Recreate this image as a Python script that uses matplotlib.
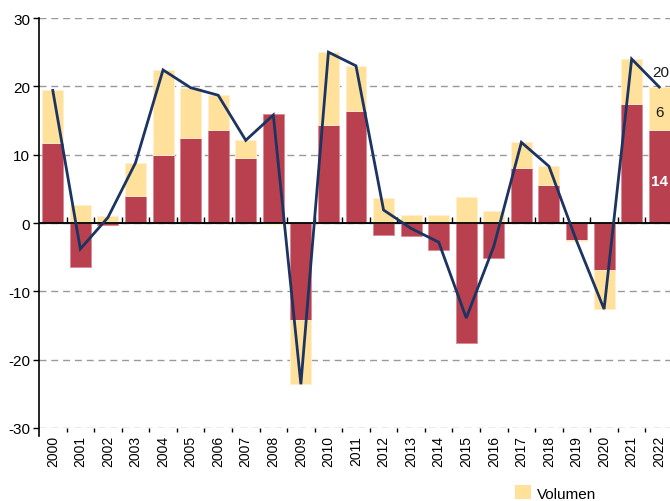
import matplotlib
matplotlib.use("Agg")
import matplotlib.pyplot as plt
import numpy as np
from matplotlib.patches import Patch

years = [str(y) for y in range(2000, 2023)]
preis = [11.7, -6.5, -0.3, 3.9, 9.9, 12.4, 13.6, 9.5, 16.0, -14.2, 14.3, 16.4,
         -1.8, -1.9, -4.0, -17.6, -5.1, 8.1, 5.5, -2.5, -6.9, 17.4, 13.6]
volumen = [7.7, 2.7, 1.0, 4.9, 12.5, 7.4, 5.1, 2.6, -0.2, -9.4, 10.7, 6.6,
           3.6, 1.1, 1.2, 3.8, 1.7, 3.7, 2.8, -0.1, -5.7, 6.6, 6.3]
umsatz = [19.4, -3.8, 0.8, 8.8, 22.4, 19.8, 18.7, 12.1, 15.8, -23.6, 25.0, 23.0,
          1.9, -0.8, -2.8, -13.9, -3.4, 11.8, 8.3, -2.6, -12.6, 24.0, 19.9]
last_labels = ["14", "6", "20"]

RED = "#b8404f"
YEL = "#ffe19c"
NAVY = "#1c3461"

plt.rcParams['font.family'] = ['Liberation Sans', 'DejaVu Sans']
plt.rcParams['axes.unicode_minus'] = False

fig = plt.figure(figsize=(6.7, 5.02), dpi=100)
ax = fig.add_axes([39/670, 1-429/502, (673-39)/670, (429-19)/502])

x = np.arange(len(years))
p = np.array(preis)
v = np.array(volumen)
w = 0.76
ax.bar(x, p, width=w, color=RED, edgecolor="#d98893", linewidth=0.6, zorder=2)
# stack volumen on preis when same sign, else from zero
base = np.where(np.sign(v) == np.sign(p), p, 0.0)
ax.bar(x, v, width=w, bottom=base, color=YEL, edgecolor="#fff0cf", linewidth=0.6, zorder=2)
ax.plot(x, umsatz, color=NAVY, lw=2.0, zorder=4, solid_joinstyle='miter')

ax.set_xlim(-0.5, len(years) - 0.5)
ax.set_ylim(-30, 30)
ax.set_yticks([-30, -20, -10, 0, 10, 20, 30])
ax.yaxis.grid(True, color="#999999", ls=(0, (5, 3.5)), lw=1.0, zorder=0)
ax.axhline(0, color="black", lw=1.3, zorder=3)

for s in ["top", "right", "bottom"]:
    ax.spines[s].set_visible(False)
ax.spines["left"].set_bounds(-31.2, 30)
ax.spines["left"].set_linewidth(1.2)
ax.tick_params(axis="y", direction="out", length=4.5, width=1, labelsize=11, pad=2)

ax.set_xticks(x)
ax.set_xticklabels(years, rotation=90, fontsize=10)
ax.set_xticks(x[:-1] + 0.5, minor=True)
ax.tick_params(axis="x", which="major", length=0, pad=5)
ax.tick_params(axis="x", which="minor", length=3, width=1, direction="out")

sec = ax.secondary_xaxis(0.5)
sec.set_xticks(x[:-1] + 0.5)
sec.set_xticklabels([])
sec.tick_params(length=4.5, width=1, direction="out")
sec.spines["bottom"].set_visible(False)

# labels on last bar
i = len(years) - 1
ax.text(x[i], p[i] / 2 - 0.6, last_labels[0], color="white", fontweight="bold",
        ha="center", va="center", fontsize=11, zorder=5)
ax.text(x[i], p[i] + v[i] / 2 - 0.5, last_labels[1], color="#1a1a1a",
        ha="center", va="center", fontsize=11, zorder=5)
ax.annotate(last_labels[2], (x[i], umsatz[i]), xytext=(-5, 6), textcoords="offset points",
            ha="left", va="bottom", fontsize=11, color="#1a1a1a", zorder=5,
            annotation_clip=False)

handles = [Patch(facecolor=YEL, edgecolor="none", label="Volumen")]
fig.legend(handles=handles, loc="center left", bbox_to_anchor=(515/670, 8/502),
           frameon=False, fontsize=11, handlelength=1.05, handleheight=1.0,
           handletextpad=0.4, borderpad=0, borderaxespad=0)

fig.savefig("out.png", dpi=100)
